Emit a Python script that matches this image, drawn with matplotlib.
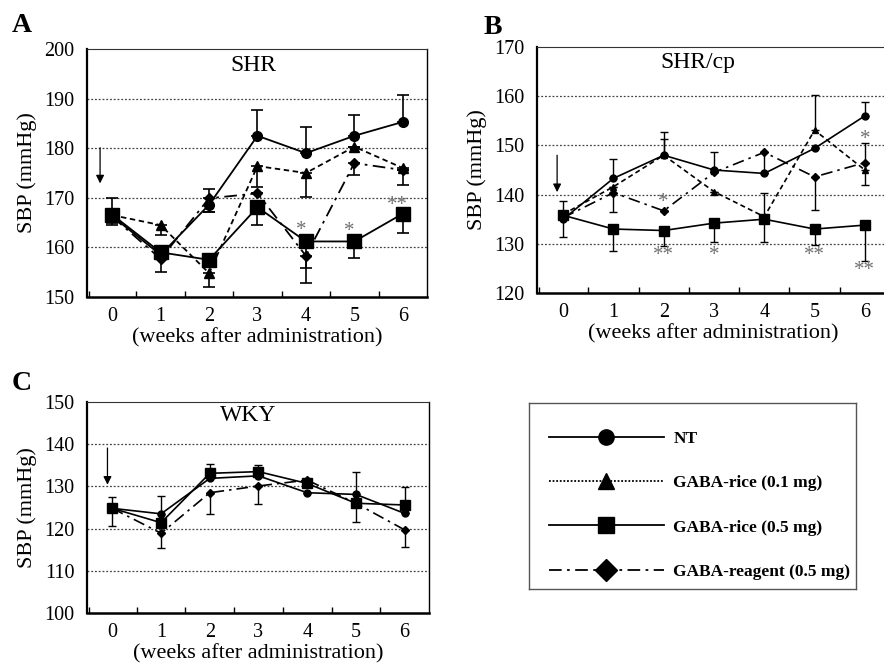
import matplotlib
matplotlib.use("Agg")
import matplotlib.pyplot as plt
from matplotlib.lines import Line2D

plt.rcParams['font.family'] = ['Liberation Serif', 'DejaVu Serif']

weeks = [0, 1, 2, 3, 4, 5, 6]
week_labels = ['0', '1', '2', '3', '4', '5', '6']
series_names = ['NT', 'GABA-rice (0.1 mg)', 'GABA-rice (0.5 mg)', 'GABA-reagent (0.5 mg)']

# ---- Panel A: SHR ----
shr_nt = [166.3, 158.5, 168.6, 182.5, 179.0, 182.5, 185.3]
shr_nt_hi = [3.7, 0, 3.1, 5.2, 5.3, 4.1, 5.5]
shr_nt_lo = [0, 3.5, 1.4, 0, 0, 0, 0]
shr_r01 = [166.5, 164.5, 154.8, 176.4, 175.0, 180.3, 176.0]
shr_r01_hi = [0, 0, 0, 0, 0, 0, 0]
shr_r01_lo = [1.5, 2.0, 2.7, 4.2, 4.8, 0, 3.5]
shr_r05 = [166.6, 159.0, 157.5, 168.1, 161.2, 161.2, 166.8]
shr_r05_hi = [0, 0, 0, 0, 0, 0, 0]
shr_r05_lo = [2.0, 0, 0, 3.6, 5.3, 3.3, 3.9]
shr_reag = [166.2, 157.7, 169.9, 170.9, 158.3, 177.0, 175.6]
shr_reag_hi = [0, 0, 0, 0, 0, 0, 0]
shr_reag_lo = [0, 0, 2.7, 0, 5.5, 2.4, 0]
shr_star_x = [4, 5, 6]
shr_star_y = [163.5, 163.3, 168.4]
shr_star_t = ['*', '*', '**']

# ---- Panel B: SHR/cp ----
cp_nt = [135.0, 143.3, 148.0, 145.0, 144.3, 149.4, 156.0]
cp_nt_hi = [3.8, 3.9, 4.7, 3.7, 0, 0, 2.9]
cp_nt_lo = [0, 0, 0, 0, 0, 0, 0]
cp_r01 = [136.0, 141.6, 148.0, 140.6, 135.5, 153.1, 145.0]
cp_r01_hi = [0, 0, 3.2, 0, 4.8, 7.1, 0]
cp_r01_lo = [0, 0, 0, 0, 0, 0, 3.0]
cp_r05 = [135.8, 133.0, 132.7, 134.2, 135.0, 133.0, 133.8]
cp_r05_hi = [0, 0, 0, 0, 0, 0, 0]
cp_r05_lo = [4.4, 4.5, 3.2, 3.9, 4.6, 3.2, 7.2]
cp_reag = [135.3, 140.4, 136.7, 144.5, 148.6, 143.6, 146.5]
cp_reag_hi = [0, 0, 0, 0, 0, 0, 3.9]
cp_reag_lo = [0, 3.9, 0, 0, 4.3, 6.7, 0]
cp_star_x = [2, 2, 3, 5, 6, 6]
cp_star_y = [127.6, 138.4, 127.6, 127.6, 124.5, 151.1]
cp_star_t = ['**', '*', '*', '**', '**', '*']

# ---- Panel C: WKY ----
wky_nt = [124.8, 123.5, 131.9, 132.5, 128.5, 128.1, 123.6]
wky_nt_hi = [2.8, 4.3, 0, 0, 0, 5.4, 0]
wky_nt_lo = [0, 0, 0, 0, 0, 0, 0]
wky_r05 = [124.8, 121.4, 133.1, 133.5, 130.7, 126.0, 125.6]
wky_r05_hi = [0, 0, 2.2, 1.6, 0, 0, 4.2]
wky_r05_lo = [4.2, 0, 0, 0, 0, 4.4, 0]
wky_reag = [124.8, 118.9, 128.5, 130.1, 131.5, 126.0, 119.7]
wky_reag_hi = [0, 0, 0, 0, 0, 0, 0]
wky_reag_lo = [0, 3.6, 5.1, 4.3, 0, 0, 4.0]

styles = {
    'NT': dict(marker='o', ls='-'),
    'GABA-rice (0.1 mg)': dict(marker='^', ls=(0, (3, 2))),
    'GABA-rice (0.5 mg)': dict(marker='s', ls='-'),
    'GABA-reagent (0.5 mg)': dict(marker='D', ls=(0, (7, 3, 1.5, 3))),
}

W, H = 884, 666
fig = plt.figure(figsize=(W / 100, H / 100), dpi=100)


def px_axes(l, t, r, b):
    return fig.add_axes([l / W, 1 - b / H, (r - l) / W, (b - t) / H])


def setup(ax, ylim, yticks, title, title_x, arrow_x, arrow_y0, arrow_y1):
    ax.set_xlim(-0.52, 6.5)
    ax.set_ylim(*ylim)
    ax.set_yticks(yticks)
    ax.set_xticks(weeks)
    ax.set_xticklabels(week_labels)
    ax.set_xticks([w + 0.5 for w in weeks[:-1]] + [-0.5 + 0.02], minor=True)
    ax.tick_params(axis='y', length=0, labelsize=14.5, pad=9)
    ax.tick_params(axis='x', which='major', length=0, labelsize=14.5, pad=7)
    ax.tick_params(axis='x', which='minor', direction='in', length=4, width=1)
    for y in yticks[1:-1]:
        ax.axhline(y, color='#444444', lw=0.9, ls=(0, (1.5, 1.5)), zorder=0)
    ax.spines['top'].set_linestyle((0, (1.5, 1.0)))
    ax.spines['top'].set_color('#333333')
    ax.spines['left'].set_linewidth(1.6)
    ax.spines['bottom'].set_linewidth(1.8)
    ax.spines['right'].set_linewidth(1.0)
    ax.set_ylabel('SBP (mmHg)', fontsize=16, labelpad=5)
    ax.set_xlabel('(weeks after administration)', fontsize=16, labelpad=2)
    ax.text(title_x, 0.935, title, transform=ax.transAxes, ha='center', va='center', fontsize=17)
    ax.annotate('', xy=(arrow_x, arrow_y1), xytext=(arrow_x, arrow_y0),
                arrowprops=dict(arrowstyle='-|>', color='black', lw=0.9,
                                mutation_scale=12, shrinkA=0, shrinkB=0))


def plot_series(ax, name, y, lo, hi, ms, lw=1.3, capsize=4, elw=1.2):
    st = styles[name]
    ax.errorbar(weeks, y, yerr=[lo, hi], fmt='none', ecolor='black', elinewidth=elw,
                capsize=capsize, capthick=elw, zorder=2)
    ax.plot(weeks, y, color='black', lw=lw, ls=st['ls'], marker=st['marker'],
            ms=ms, mfc='black', mec='black', zorder=3)


# Panel A
axA = px_axes(87, 49, 427, 297)
setup(axA, (150, 200), [150, 160, 170, 180, 190, 200], 'SHR', 0.49, -0.25, 180.1, 172.9)
plot_series(axA, 'NT', shr_nt, shr_nt_lo, shr_nt_hi, 7)
plot_series(axA, 'GABA-rice (0.1 mg)', shr_r01, shr_r01_lo, shr_r01_hi, 7)
plot_series(axA, 'GABA-rice (0.5 mg)', shr_r05, shr_r05_lo, shr_r05_hi, 9.5)
plot_series(axA, 'GABA-reagent (0.5 mg)', shr_reag, shr_reag_lo, shr_reag_hi, 5.5)
for x, y, t in zip(shr_star_x, shr_star_y, shr_star_t):
    axA.text(x - 0.1, y, t, ha='center', va='center', fontsize=15, color='#707070')

# Panel B
axB = px_axes(537, 47, 890, 293)
setup(axB, (120, 170), [120, 130, 140, 150, 160, 170], 'SHR/cp', 0.455, -0.12, 148.0, 140.5)
axB.spines['right'].set_visible(False)
plot_series(axB, 'NT', cp_nt, cp_nt_lo, cp_nt_hi, 5, lw=1.2, capsize=3, elw=1.0)
plot_series(axB, 'GABA-rice (0.1 mg)', cp_r01, cp_r01_lo, cp_r01_hi, 5, lw=1.2, capsize=3, elw=1.0)
plot_series(axB, 'GABA-rice (0.5 mg)', cp_r05, cp_r05_lo, cp_r05_hi, 6.5, lw=1.2, capsize=3, elw=1.0)
plot_series(axB, 'GABA-reagent (0.5 mg)', cp_reag, cp_reag_lo, cp_reag_hi, 4, lw=1.2, capsize=3, elw=1.0)
for x, y, t in zip(cp_star_x, cp_star_y, cp_star_t):
    axB.text(x, y, t, ha='center', va='center', fontsize=15, color='#707070')

# Panel C
axC = px_axes(87, 402, 429, 613)
setup(axC, (100, 150), [100, 110, 120, 130, 140, 150], 'WKY', 0.47, -0.1, 139.1, 130.4)
plot_series(axC, 'NT', wky_nt, wky_nt_lo, wky_nt_hi, 5, lw=1.2, capsize=3, elw=1.0)
plot_series(axC, 'GABA-rice (0.5 mg)', wky_r05, wky_r05_lo, wky_r05_hi, 6.5, lw=1.2, capsize=3, elw=1.0)
plot_series(axC, 'GABA-reagent (0.5 mg)', wky_reag, wky_reag_lo, wky_reag_hi, 4, lw=1.2, capsize=3, elw=1.0)

# Panel letters
fig.text(12 / W, 1 - 25 / H, 'A', fontsize=20, fontweight='bold', ha='left', va='center')
fig.text(484 / W, 1 - 28 / H, 'B', fontsize=20, fontweight='bold', ha='left', va='center')
fig.text(12 / W, 1 - 384 / H, 'C', fontsize=20, fontweight='bold', ha='left', va='center')

# Legend box
axL = px_axes(529, 403, 856, 589)
axL.set_xticks([])
axL.set_yticks([])
for s in axL.spines.values():
    s.set_color('#555555')
    s.set_linewidth(1.0)
handles = [Line2D([0], [0], color='black', lw=1.3,
                  ls=styles[n]['ls'] if n != 'GABA-rice (0.1 mg)' else (0, (1, 1)),
                  marker=styles[n]['marker'], ms=11, mfc='black', mec='black')
           for n in series_names]
leg = axL.legend(handles, series_names, loc='center left', bbox_to_anchor=(0.014, 0.45),
                 frameon=False, handlelength=6.6, handletextpad=0.55, labelspacing=1.62,
                 prop=dict(family=['Liberation Serif'], weight='bold', size=12.5))

fig.savefig('out.png', dpi=100)
